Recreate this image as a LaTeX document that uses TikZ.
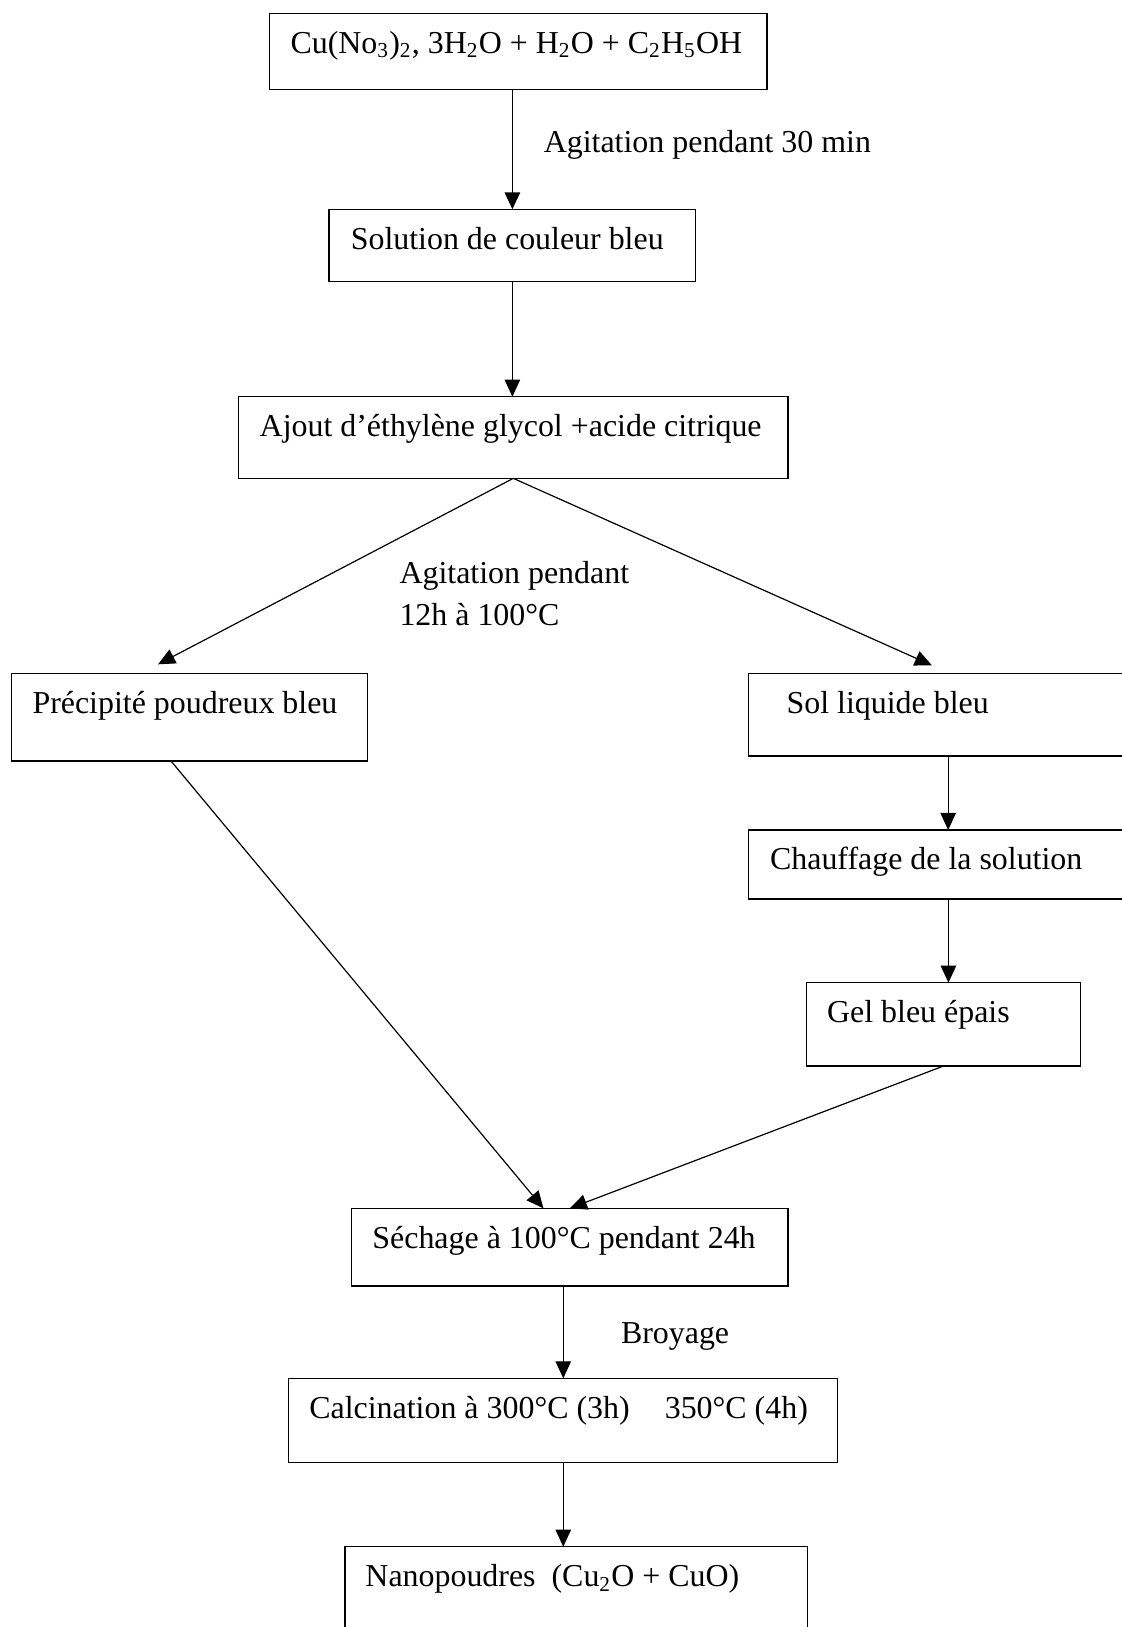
\documentclass[tikz,border=0pt]{standalone}
\usepackage{fontspec}
\setmainfont{Liberation Serif}
\usepackage{tikz}
\usetikzlibrary{arrows.meta,calc,positioning}

\newcommand{\boxtext}[2]{\makebox[#1][l]{#2}}

\tikzset{
  stepbox/.style={draw, line width=0.5pt, anchor=north west, inner ysep=0pt, outer sep=0pt,
    text height=15pt, font=\fontsize{12}{14}\selectfont},
  flow/.style={line width=0.45pt, -{Triangle[length=6.4pt,width=5.8pt]}},
  note/.style={anchor=base west, inner sep=0pt, align=left, font=\fontsize{12}{15.7}\selectfont}
}

\begin{document}
\begin{tikzpicture}[x=0.376pt,y=-0.376pt]
        \clip (0,0) rectangle (1122,1627);
        \fill[white] (0,0) rectangle (1122,1627);
        %Boxes
        \node[stepbox, inner xsep=7.9pt, text depth=13.6pt] (melange) at (269.5,13.3)
          {\boxtext{171.3pt}{Cu(No\textsubscript{3})\textsubscript{2}, 3H\textsubscript{2}O + H\textsubscript{2}O + C\textsubscript{2}H\textsubscript{5}OH}};
        \node[stepbox, inner xsep=8.2pt, text depth=12.2pt] (sol) at (329,209.3)
          {\boxtext{121.5pt}{Solution de couleur bleu}};
        \node[stepbox, inner xsep=7.9pt, text depth=15.7pt] (ajout) at (238.7,396.7)
          {\boxtext{190.7pt}{Ajout d’éthylène glycol +acide citrique}};
        \node[stepbox, inner xsep=7.9pt, text depth=18pt] (prec) at (11.5,673.3)
          {\boxtext{118.1pt}{Précipité poudreux bleu}};
        \node[stepbox, inner xsep=14.4pt, text depth=16.1pt] (liquide) at (748.3,673.3)
          {\boxtext{121.5pt}{Sol liquide bleu}};
        \node[stepbox, inner xsep=8.2pt, text depth=11pt] (chauff) at (748.3,830)
          {\boxtext{134.1pt}{Chauffage de la solution}};
        \node[stepbox, inner xsep=7.7pt, text depth=16.3pt] (gel) at (806.7,982.7)
          {\boxtext{87.6pt}{Gel bleu épais}};
        \node[stepbox, inner xsep=7.8pt, text depth=14.2pt] (sechage) at (351.7,1208.3)
          {\boxtext{148.5pt}{Séchage à 100°C pendant 24h}};
        \node[stepbox, inner xsep=7.8pt, text depth=16.6pt] (calc) at (288.6,1378.3)
          {\boxtext{190.8pt}{Calcination à 300°C (3h)\hspace{0.85em} 350°C (4h)}};
        \node[stepbox, inner xsep=7.7pt, text depth=22.6pt] (nano) at (345,1546.7)
          {\boxtext{158.5pt}{Nanopoudres\ \ (Cu\textsubscript{2}O + CuO)}};
        %Labels
        \node[note] (agit) at (543.3,152) {Agitation pendant 30 min};
        \node[note] (agitdeux) at (399,625.5) {Agitation pendant\\12h à 100°C};
        \node[note] (broyage) at (620.5,1343.5) {Broyage};
        %Arrow ends
        \coordinate (precin) at ($(prec.north)+(-31.5,-9)$);
        \coordinate (liqin) at ($(liquide.north)+(-16.3,-8)$);
        \coordinate (precout) at ($(prec.south)+(-18.5,0)$);
        \coordinate (sechin) at ($(sechage.north)+(-26.5,0)$);
        %Arrows
        \draw[flow, line width=0.65pt] (sol.north |- melange.south) -- (sol.north);
        \draw[flow] (sol.south) -- (sol.south |- ajout.north);
        \draw[flow] (ajout.south) -- (precin);
        \draw[flow] (ajout.south) -- (liqin);
        \draw[flow] (liquide.south) -- (liquide.south |- chauff.north);
        \draw[flow] (chauff.south) -- (chauff.south |- gel.north);
        \draw[flow] (precout) -- (sechin);
        \draw[flow] (gel.south) -- (sechage.north);
        \draw[flow] ([xshift=-2.5]sechage.south) -- ([xshift=-2.5]sechage.south |- calc.north);
        \draw[flow] ([xshift=-2.5]sechage.south |- calc.south) -- ([xshift=-2.5]sechage.south |- nano.north);
      \end{tikzpicture}
\end{document}
